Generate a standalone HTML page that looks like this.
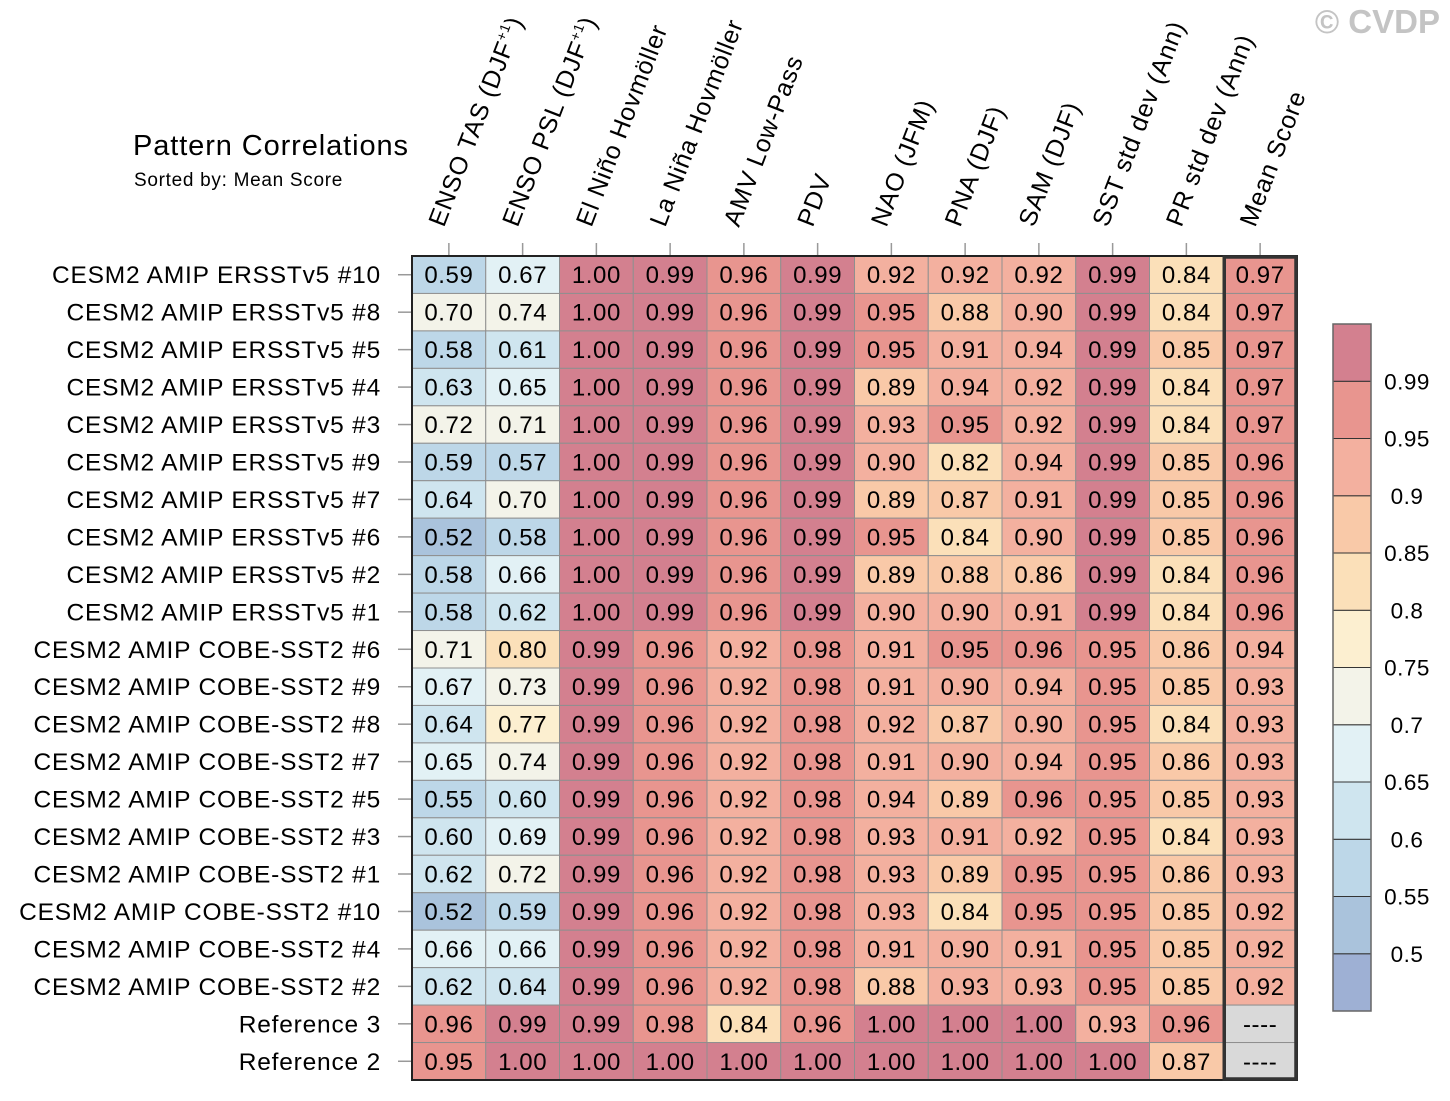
<!DOCTYPE html>
<html><head><meta charset="utf-8">
<style>
html,body{margin:0;padding:0;background:#fff;}
svg{display:block;font-family:"Liberation Sans",Arial,sans-serif;}
</style></head>
<body>
<svg id="chart" width="1450" height="1101" viewBox="0 0 1450 1101">
  <text x="1440" y="33" text-anchor="end" font-size="33" font-weight="bold" fill="#c4c4c4">© CVDP</text>
  <text x="133" y="155" font-size="29" letter-spacing="0.9" fill="#000">Pattern Correlations</text>
  <text x="134" y="186" font-size="19" letter-spacing="0.7" fill="#000">Sorted by: Mean Score</text>
  <g id="grid"></g>
  <g id="xlabels"></g>
  <g id="ylabels"></g>
  <g id="colorbar"></g>
</svg>
<script>
const columns = ["ENSO TAS (DJF+1)","ENSO PSL (DJF+1)","El Niño Hovmöller","La Niña Hovmöller","AMV Low-Pass","PDV","NAO (JFM)","PNA (DJF)","SAM (DJF)","SST std dev (Ann)","PR std dev (Ann)","Mean Score"];
const rows = ["CESM2 AMIP ERSSTv5 #10","CESM2 AMIP ERSSTv5 #8","CESM2 AMIP ERSSTv5 #5","CESM2 AMIP ERSSTv5 #4","CESM2 AMIP ERSSTv5 #3","CESM2 AMIP ERSSTv5 #9","CESM2 AMIP ERSSTv5 #7","CESM2 AMIP ERSSTv5 #6","CESM2 AMIP ERSSTv5 #2","CESM2 AMIP ERSSTv5 #1","CESM2 AMIP COBE-SST2 #6","CESM2 AMIP COBE-SST2 #9","CESM2 AMIP COBE-SST2 #8","CESM2 AMIP COBE-SST2 #7","CESM2 AMIP COBE-SST2 #5","CESM2 AMIP COBE-SST2 #3","CESM2 AMIP COBE-SST2 #1","CESM2 AMIP COBE-SST2 #10","CESM2 AMIP COBE-SST2 #4","CESM2 AMIP COBE-SST2 #2","Reference 3","Reference 2"];
const values = [
[0.59,0.67,1.00,0.99,0.96,0.99,0.92,0.92,0.92,0.99,0.84,0.97],
[0.70,0.74,1.00,0.99,0.96,0.99,0.95,0.88,0.90,0.99,0.84,0.97],
[0.58,0.61,1.00,0.99,0.96,0.99,0.95,0.91,0.94,0.99,0.85,0.97],
[0.63,0.65,1.00,0.99,0.96,0.99,0.89,0.94,0.92,0.99,0.84,0.97],
[0.72,0.71,1.00,0.99,0.96,0.99,0.93,0.95,0.92,0.99,0.84,0.97],
[0.59,0.57,1.00,0.99,0.96,0.99,0.90,0.82,0.94,0.99,0.85,0.96],
[0.64,0.70,1.00,0.99,0.96,0.99,0.89,0.87,0.91,0.99,0.85,0.96],
[0.52,0.58,1.00,0.99,0.96,0.99,0.95,0.84,0.90,0.99,0.85,0.96],
[0.58,0.66,1.00,0.99,0.96,0.99,0.89,0.88,0.86,0.99,0.84,0.96],
[0.58,0.62,1.00,0.99,0.96,0.99,0.90,0.90,0.91,0.99,0.84,0.96],
[0.71,0.80,0.99,0.96,0.92,0.98,0.91,0.95,0.96,0.95,0.86,0.94],
[0.67,0.73,0.99,0.96,0.92,0.98,0.91,0.90,0.94,0.95,0.85,0.93],
[0.64,0.77,0.99,0.96,0.92,0.98,0.92,0.87,0.90,0.95,0.84,0.93],
[0.65,0.74,0.99,0.96,0.92,0.98,0.91,0.90,0.94,0.95,0.86,0.93],
[0.55,0.60,0.99,0.96,0.92,0.98,0.94,0.89,0.96,0.95,0.85,0.93],
[0.60,0.69,0.99,0.96,0.92,0.98,0.93,0.91,0.92,0.95,0.84,0.93],
[0.62,0.72,0.99,0.96,0.92,0.98,0.93,0.89,0.95,0.95,0.86,0.93],
[0.52,0.59,0.99,0.96,0.92,0.98,0.93,0.84,0.95,0.95,0.85,0.92],
[0.66,0.66,0.99,0.96,0.92,0.98,0.91,0.90,0.91,0.95,0.85,0.92],
[0.62,0.64,0.99,0.96,0.92,0.98,0.88,0.93,0.93,0.95,0.85,0.92],
[0.96,0.99,0.99,0.98,0.84,0.96,1.00,1.00,1.00,0.93,0.96,null],
[0.95,1.00,1.00,1.00,1.00,1.00,1.00,1.00,1.00,1.00,0.87,null]
];
const levels = [0.5,0.55,0.6,0.65,0.7,0.75,0.8,0.85,0.9,0.95,0.99];
const levelLabels = ["0.5","0.55","0.6","0.65","0.7","0.75","0.8","0.85","0.9","0.95","0.99"];
const palette = ["#9eb0d4","#aac3dc","#bdd7e8","#cfe5ef","#e2f1f5","#f3f3e9","#fcefd0","#fbe0b9","#f9c9a8","#f3b09f","#e8958f","#d3808f"];

const NS="http://www.w3.org/2000/svg";
function mk(tag, attrs, parent){const e=document.createElementNS(NS,tag);for(const k in attrs)e.setAttribute(k,attrs[k]);parent.appendChild(e);return e;}
const X0=412, X1=1297, Y0=256, Y1=1080;
const cw=(X1-X0)/columns.length, rh=(Y1-Y0)/rows.length;
const xPos=i=>X0+i*cw, yPos=j=>Y0+j*rh;
function colorFor(v){if(v===null)return "#d9d9d9";let b=0;while(b<levels.length&&v>=levels[b]-1e-9)b++;return palette[b];}

const grid=document.getElementById('grid');
rows.forEach((r,j)=>{
  columns.forEach((c,i)=>{
    const v=values[j][i];
    const rect=mk('rect',{x:xPos(i),y:yPos(j),width:cw,height:rh,fill:colorFor(v),stroke:"#8f8f8f","stroke-width":1},grid);
    
    
    const t=mk('text',{x:xPos(i)+cw/2,y:yPos(j)+rh/2+8.5,"text-anchor":"middle","font-size":24,"letter-spacing":0.6,fill:"#000"},grid);
    t.textContent=v===null?"----":v.toFixed(2);
    
    
  });
});
const outer=mk('rect',{x:X0,y:Y0,width:X1-X0,height:Y1-Y0,fill:"none",stroke:"#222","stroke-width":2},grid);


const mbox=mk('rect',{x:xPos(11)+1,y:Y0+1,width:cw-2,height:Y1-Y0-2,fill:"none",stroke:"#333","stroke-width":3.5},grid);



const xl=document.getElementById('xlabels');
columns.forEach((c,i)=>{
  const cx=xPos(i)+cw/2;
  const tk=mk('line',{x1:cx,y1:243,x2:cx,y2:255,stroke:"#999","stroke-width":1.5},xl);
  
  
  const ox=cx-5, oy=228;
  const t=mk('text',{x:ox,y:oy,"font-size":25,"letter-spacing":0.8,transform:`rotate(-69 ${ox} ${oy})`},xl);
  const m=c.match(/^(.*\(DJF)\+1\)$/);
  if(m){
    const a=mk('tspan',{},t);a.textContent=m[1];
    const s=mk('tspan',{dy:-10,"font-size":14},t);s.textContent="+1";
    const b=mk('tspan',{dy:10},t);b.textContent=")";
  } else t.textContent=c;
  
  
});

const yl=document.getElementById('ylabels');
rows.forEach((r,j)=>{
  const cy=yPos(j)+rh/2;
  const tk=mk('line',{x1:398,y1:cy,x2:411,y2:cy,stroke:"#999","stroke-width":1.5},yl);
  
  
  const t=mk('text',{x:381,y:cy+8.5,"text-anchor":"end","font-size":24.5,"letter-spacing":0.8},yl);
  t.textContent=r;
  
  
});

const cb=document.getElementById('colorbar');
const CX=1333, CW=38, CY0=324, CY1=1011, bh=(CY1-CY0)/palette.length;
palette.forEach((col,k)=>{
  const y=CY1-(k+1)*bh;
  const r=mk('rect',{x:CX,y:y,width:CW,height:bh,fill:col,stroke:"#333","stroke-width":1},cb);
  
  
});
const cbo=mk('rect',{x:CX,y:CY0,width:CW,height:CY1-CY0,fill:"none",stroke:"#666","stroke-width":1.5},cb);


levelLabels.forEach((lab,k)=>{
  const y=CY1-(k+1)*bh;
  const t=mk('text',{x:1407,y:y+8,"text-anchor":"middle","font-size":22.5,"letter-spacing":0.5},cb);
  t.textContent=lab;
  
  
});
</script>
</body></html>
